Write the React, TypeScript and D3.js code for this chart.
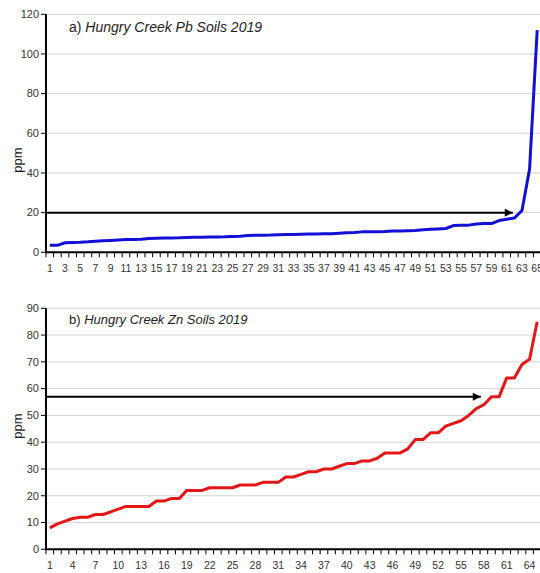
import React, { useEffect, useRef } from "react";
import * as d3 from "d3";

// sample rank 1..65 (sorted ascending)
const samples = d3.range(1, 66);

const pbValues = [
  3.5, 3.5, 4.8, 5.0, 5.1, 5.3, 5.6, 5.8, 6.0, 6.2, 6.4, 6.5, 6.6, 7.0, 7.1,
  7.2, 7.2, 7.3, 7.5, 7.6, 7.6, 7.7, 7.7, 7.8, 8.0, 8.1, 8.5, 8.6, 8.6, 8.7,
  8.9, 9.0, 9.0, 9.1, 9.2, 9.2, 9.3, 9.4, 9.6, 9.8, 10.0, 10.3, 10.4, 10.4,
  10.5, 10.7, 10.8, 10.9, 11.0, 11.4, 11.6, 11.8, 12.0, 13.5, 13.6, 13.7, 14.3,
  14.5, 14.5, 16.0, 16.7, 17.3, 21, 42, 112,
];

const znValues = [
  8, 9.5, 10.5, 11.5, 12, 12, 13, 13, 14, 15, 16, 16, 16, 16, 18, 18, 19, 19,
  22, 22, 22, 23, 23, 23, 23, 24, 24, 24, 25, 25, 25, 27, 27, 28, 29, 29, 30,
  30, 31, 32, 32, 33, 33, 34, 36, 36, 36, 37.5, 41, 41, 43.5, 43.5, 46, 47, 48,
  50, 52.5, 54, 57, 57, 64, 64, 69, 71, 85,
];

const pbTicks = [0, 20, 40, 60, 80, 100, 120];
const znTicks = [0, 10, 20, 30, 40, 50, 60, 70, 80, 90];
const pbLabels = samples.filter((d) => d % 2 === 1);
const znLabels = samples.filter((d) => (d - 1) % 3 === 0);

// threshold arrows: [value, sample position of arrow tip]
const pbArrow = [20, 61.8];
const znArrow = [57, 57.6];

const font = "'Liberation Sans', Arial, Helvetica, sans-serif";

function App() {
  const ref = useRef(null);

  useEffect(() => {
    const svg = d3.select(ref.current);
    svg.selectAll("*").remove();

    svg
      .append("defs")
      .append("marker")
      .attr("id", "head")
      .attr("viewBox", "0 0 10 10")
      .attr("refX", 10)
      .attr("refY", 5)
      .attr("markerWidth", 11)
      .attr("markerHeight", 8)
      .attr("markerUnits", "userSpaceOnUse")
      .attr("orient", "auto")
      .append("path")
      .attr("d", "M0,0L10,5L0,10Z")
      .attr("fill", "#000");

    const x = d3.scaleLinear().domain([0.5, 65.5]).range([46, 541]);

    const drawPanel = (cfg) => {
      const y = d3
        .scaleLinear()
        .domain([0, cfg.max])
        .range([cfg.bottom, cfg.top]);
      const g = svg.append("g");

      // grid
      g.selectAll(".grid")
        .data(cfg.ticks.filter((d) => d > 0))
        .enter()
        .append("line")
        .attr("x1", x.range()[0])
        .attr("x2", 540)
        .attr("y1", (d) => y(d))
        .attr("y2", (d) => y(d))
        .attr("stroke", "#d4d4d4")
        .attr("stroke-width", 1);

      // series line
      const line = d3
        .line()
        .x((d, i) => x(samples[i]))
        .y((d) => y(d));
      g.append("path")
        .datum(cfg.values)
        .attr("d", line)
        .attr("fill", "none")
        .attr("stroke", cfg.color)
        .attr("stroke-width", 3)
        .attr("stroke-linejoin", "round");

      // threshold arrow
      g.append("line")
        .attr("x1", x.range()[0])
        .attr("x2", x(cfg.arrow[1]))
        .attr("y1", y(cfg.arrow[0]))
        .attr("y2", y(cfg.arrow[0]))
        .attr("stroke", "#000")
        .attr("stroke-width", 2)
        .attr("marker-end", "url(#head)");

      // y axis
      g.append("line")
        .attr("x1", 46)
        .attr("x2", 46)
        .attr("y1", cfg.top)
        .attr("y2", cfg.bottom + 1)
        .attr("stroke", "#000")
        .attr("stroke-width", 2);
      g.selectAll(".ytick")
        .data(cfg.ticks)
        .enter()
        .append("line")
        .attr("x1", 41)
        .attr("x2", 46)
        .attr("y1", (d) => y(d))
        .attr("y2", (d) => y(d))
        .attr("stroke", "#000")
        .attr("stroke-width", 1);
      g.selectAll(".ylab")
        .data(cfg.ticks)
        .enter()
        .append("text")
        .attr("x", 39)
        .attr("y", (d) => y(d))
        .attr("dy", "0.35em")
        .attr("text-anchor", "end")
        .style("font-family", font)
        .style("font-size", "11px")
        .attr("fill", "#333")
        .text((d) => d);

      // x axis
      g.append("line")
        .attr("x1", 45)
        .attr("x2", 540)
        .attr("y1", cfg.bottom)
        .attr("y2", cfg.bottom)
        .attr("stroke", "#000")
        .attr("stroke-width", 2);
      g.selectAll(".xtick")
        .data(d3.range(0, 66))
        .enter()
        .append("line")
        .attr("x1", (d) => x(d + 0.5))
        .attr("x2", (d) => x(d + 0.5))
        .attr("y1", cfg.bottom)
        .attr("y2", cfg.bottom + 5)
        .attr("stroke", "#000")
        .attr("stroke-width", 1);
      g.selectAll(".xlab")
        .data(cfg.labels)
        .enter()
        .append("text")
        .attr("x", (d) => x(d))
        .attr("y", cfg.bottom + 20)
        .attr("text-anchor", "middle")
        .style("font-family", font)
        .style("font-size", "10.5px")
        .attr("fill", "#333")
        .text((d) => d);

      // y label
      g.append("text")
        .attr("transform", `translate(22,${cfg.labelY}) rotate(-90)`)
        .attr("text-anchor", "middle")
        .style("font-family", font)
        .style("font-size", "13px")
        .attr("fill", "#222")
        .text("ppm");

      // title
      const t = g
        .append("text")
        .attr("x", 69)
        .attr("y", cfg.titleY)
        .style("font-family", font)
        .style("font-size", cfg.titleSize)
        .attr("fill", "#222");
      t.append("tspan").text(cfg.prefix + " ");
      t.append("tspan").style("font-style", "italic").text(cfg.title);
    };

    drawPanel({
      values: pbValues,
      ticks: pbTicks,
      labels: pbLabels,
      max: 120,
      top: 14.3,
      bottom: 252.3,
      color: "#1010d6",
      arrow: pbArrow,
      prefix: "a)",
      title: "Hungry Creek Pb Soils 2019",
      titleY: 32,
      titleSize: "14px",
      labelY: 160,
    });

    drawPanel({
      values: znValues,
      ticks: znTicks,
      labels: znLabels,
      max: 90,
      top: 308.3,
      bottom: 549.3,
      color: "#e41616",
      arrow: znArrow,
      prefix: "b)",
      title: "Hungry Creek Zn Soils 2019",
      titleY: 324,
      titleSize: "13px",
      labelY: 426,
    });
  }, []);

  return (
    <svg
      ref={ref}
      width={540}
      height={573}
      style={{ position: "absolute", left: 0, top: 0, background: "#fff" }}
    ></svg>
  );
}

export default App;
